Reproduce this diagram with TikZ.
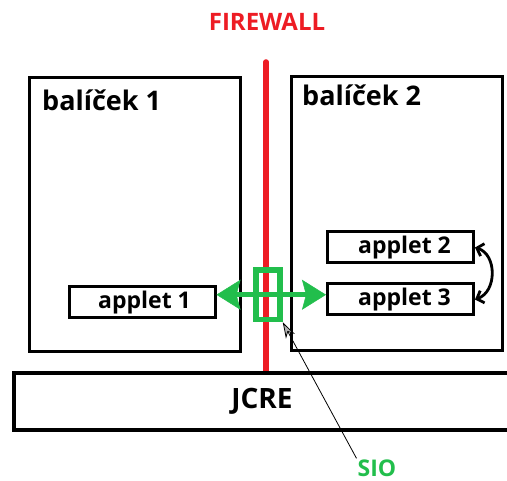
\documentclass[tikz,border=0pt]{standalone}
\usepackage{fontspec}
\setmainfont{Open Sans}
\usetikzlibrary{arrows.meta}
\definecolor{fwred}{RGB}{237,28,36}
\definecolor{siogreen}{RGB}{34,190,76}
\begin{document}
\begin{tikzpicture}[x=1pt,y=-1pt,
  pkgbox/.style={draw, line width=3pt, minimum width=211pt, minimum height=274pt, inner sep=0pt},
  pkgtitle/.style={anchor=base west, inner sep=0pt, font=\bfseries\fontsize{27}{27}\selectfont},
  appletbox/.style={draw, line width=3pt, minimum width=146pt, minimum height=31pt, inner sep=0pt,
    font=\bfseries\fontsize{23}{23}\selectfont},
  jcrebox/.style={draw, fill=white, line width=4pt, minimum width=496pt, minimum height=57pt, inner sep=0pt,
    font=\bfseries\fontsize{28}{28}\selectfont},
  fwlabel/.style={text=fwred, inner sep=0pt, font=\bfseries\fontsize{24}{24}\selectfont},
  fwline/.style={draw=fwred, line width=5.5pt, line cap=round},
  siobox/.style={draw=siogreen, line width=5.5pt, minimum width=24pt, minimum height=49.5pt, inner sep=0pt},
  sioarrow/.style={draw=siogreen, line width=5pt,
    {Stealth[length=24pt,width=30pt,inset=4pt,line width=0.5pt]}-{Stealth[length=24pt,width=30pt,inset=4pt,line width=0.5pt]}},
  siolabel/.style={text=siogreen, inner sep=1pt, font=\bfseries\fontsize{23}{23}\selectfont},
  swaparrow/.style={draw, line width=2.8pt,
    {Straight Barb[length=6pt,width=13pt]}-{Straight Barb[length=6pt,width=13pt]}},
  pointer/.style={draw, line width=0.8pt, -{Stealth[length=16pt,width=10pt,inset=5pt,fill=gray!60]}}
]
\useasboundingbox (0,0) rectangle (507,481);

% firewall caption and wall line
\node[fwlabel] (fw) at (267,22) {FIREWALL};
\coordinate (fwtop) at (266,62);

% runtime environment at the bottom
\node[jcrebox] (jcre) at (262,401.5) {JCRE};
\draw[fwline] (fwtop) -- (fwtop |- jcre.north);
\node[jcrebox, fill=none] at (jcre.center) {};

% the two packages
\node[pkgbox] (pkg1) at (135,214.5) {};
\node[pkgtitle] (title1) at (42,111) {balíček 1};
\node[pkgbox] (pkg2) at (397,214) {};
\node[pkgtitle] (title2) at (302,106) {balíček 2};

% applets
\node[appletbox] (applet1) at (142,302.5) {\hspace*{5pt}applet 1};
\node[appletbox] (applet2) at (400.5,247.5) {\hspace*{8pt}applet 2};
\node[appletbox] (applet3) at (400.5,299.5) {\hspace*{8pt}applet 3};

% interaction inside package 2
\draw[swaparrow] (applet2.east) .. controls +(22,7) and +(22,-8) .. (applet3.east);

% shareable interface object crossing the firewall
\node[siobox] (sbox) at (268,294.75) {};
\draw[sioarrow] (applet1.east |- sbox.center) -- (applet3.west |- sbox.center);

\node[siolabel] (sio) at (377,468) {SIO};
\draw[pointer] (sio.north west) -- (sbox.south east);
\end{tikzpicture}
\end{document}
